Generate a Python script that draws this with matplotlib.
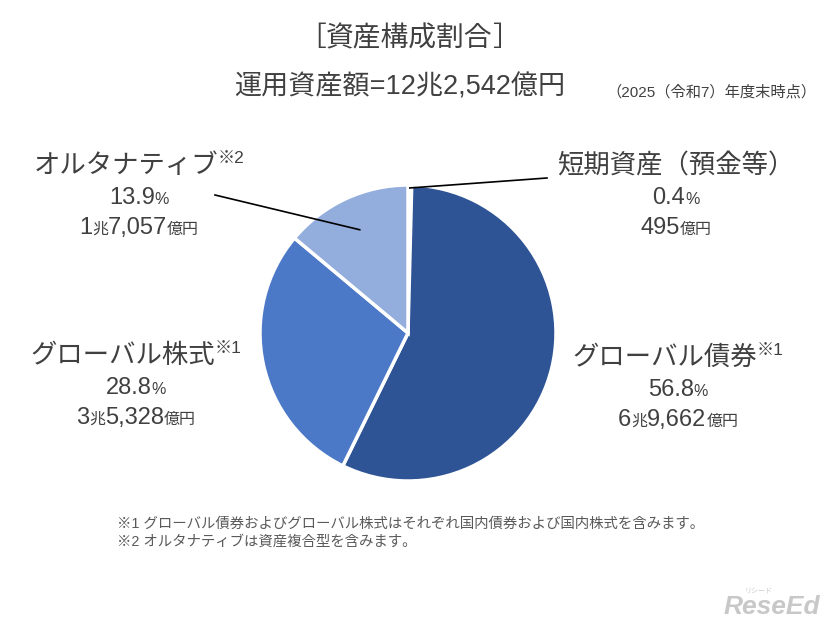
import numpy as np
import matplotlib
matplotlib.use("Agg")
import matplotlib.pyplot as plt
from matplotlib.lines import Line2D

plt.rcParams['font.family'] = ['Liberation Sans', 'Noto Sans CJK JP', 'DejaVu Sans']

categories = ["短期資産（預金等）", "グローバル債券", "グローバル株式", "オルタナティブ"]
notes = ["", "※1", "※1", "※2"]
shares = [0.4, 56.8, 28.8, 13.9]
amounts_cho = [None, "6", "3", "1"]
amounts_oku = ["495", "9,662", "5,328", "7,057"]
colors = ["#FFFFFF", "#2F5496", "#4C78C8", "#93ADDD"]

title = "［資産構成割合］"
subtitle = "運用資産額=12兆2,542億円"
asof = "（2025（令和7）年度末時点）"
footnotes = ["※1 グローバル債券およびグローバル株式はそれぞれ国内債券および国内株式を含みます。",
             "※2 オルタナティブは資産複合型を含みます。"]

W, H = 826, 622
fig = plt.figure(figsize=(W / 100, H / 100), dpi=100)
fig.patch.set_facecolor("white")
TXT = "#404040"

cx, cy, R = 408, 333, 148
ax = fig.add_axes([(cx - R) / W, 1 - (cy + R) / H, 2 * R / W, 2 * R / H])
wedges, _ = ax.pie(shares, colors=colors, startangle=90, counterclock=False,
                   wedgeprops=dict(edgecolor="white", linewidth=2.5))
ax.set_xlim(-1, 1)
ax.set_ylim(-1, 1)
ax.set_aspect("equal")
ax.axis("off")

renderer = fig.canvas.get_renderer()


def runs(xc, yb, parts, color=TXT, raise_idx=(), raise_px=0):
    objs = []
    widths = []
    for s, sz in parts:
        t = fig.text(0, 0, s, fontsize=sz, color=color, ha="left", va="baseline")
        objs.append(t)
        widths.append(t.get_window_extent(renderer).width)
    total = sum(widths)
    x0 = xc - total / 2
    cum = 0
    for j, (t, w) in enumerate(zip(objs, widths)):
        dy = raise_px if j in raise_idx else 0
        t.set_position(((x0 + cum) / W, 1 - (yb - dy) / H))
        cum += w


# Titles
runs(409, 46, [("［", 20), ("資産構成割合", 20), ("］", 20)])
runs(400, 94, [(subtitle, 19.5)])
runs(711, 97, [(asof, 11)])

# Labels: (center x, baseline of name line)
label_pos = [(676, 173), (678, 365), (136, 363), (139, 173)]
for i, (xc, yb) in enumerate(label_pos):
    name_parts = [(categories[i], 19)]
    if notes[i]:
        name_parts.append((notes[i], 12.5))
    runs(xc, yb, name_parts, raise_idx=(1,), raise_px=10)
    runs(xc, yb + 31, [(f"{shares[i]:.1f}", 17), ("%", 11.5)])
    if amounts_cho[i] is None:
        runs(xc, yb + 61, [(amounts_oku[i], 17), ("億円", 11.5)])
    else:
        runs(xc, yb + 61, [(amounts_cho[i], 17), ("兆", 11.5),
                           (amounts_oku[i], 17), ("億円", 11.5)])


# Leader lines from label to wedge
def wedge_point(w, frac):
    ang = np.deg2rad((w.theta1 + w.theta2) / 2)
    return cx + frac * R * np.cos(ang), cy - frac * R * np.sin(ang)


px, py = wedge_point(wedges[3], 0.77)
fig.add_artist(Line2D([215 / W, px / W], [1 - 195 / H, 1 - py / H],
                      color="black", lw=1.2, transform=fig.transFigure))
px, py = wedge_point(wedges[0], 0.98)
fig.add_artist(Line2D([547 / W, px / W], [1 - 178 / H, 1 - py / H],
                      color="black", lw=1.2, transform=fig.transFigure))

# Footnotes
fig.text(117 / W, 1 - 528 / H, footnotes[0], fontsize=10.4, color="#595959",
         ha="left", va="baseline")
fig.text(117 / W, 1 - 546 / H, footnotes[1], fontsize=10.4, color="#595959",
         ha="left", va="baseline")

# Watermark
fig.text(820 / W, 1 - 614 / H, "ReseEd", fontsize=19, color="#C8C8C8",
         fontweight="bold", fontstyle="italic", ha="right", va="baseline")
fig.text(758 / W, 1 - 592 / H, "リシード", fontsize=5, color="#C8C8C8",
         ha="center", va="baseline")

fig.savefig("out.png", dpi=100, facecolor="white")
